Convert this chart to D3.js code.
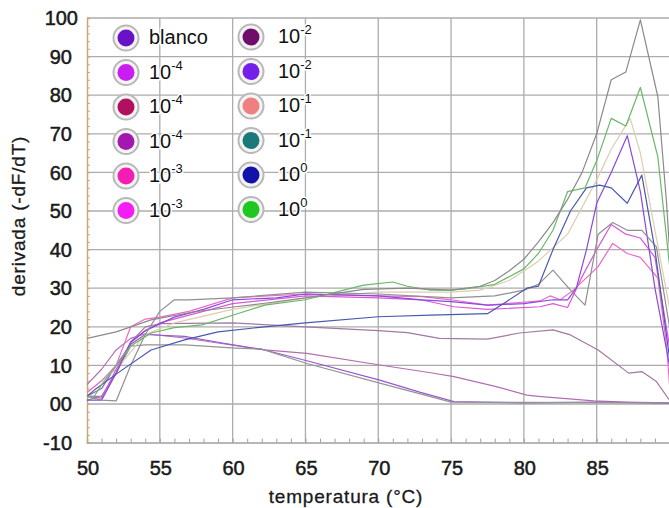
<!DOCTYPE html>
<html>
<head>
<meta charset="utf-8">
<script src="https://cdn.jsdelivr.net/npm/d3@7"></script>
<style>
  body { margin: 0; background: #fff; }
  svg { display: block; font-family: "Liberation Sans", Arial, sans-serif; }
  .tick-label { font-size: 20px; fill: #1a1a1a; stroke: #1a1a1a; stroke-width: 0.5px; }
  .axis-title { font-size: 19px; letter-spacing: 0.8px; fill: #1a1a1a; stroke: #1a1a1a; stroke-width: 0.3px; }
  .leg-text { font-size: 20px; fill: #111; paint-order: stroke; stroke: #fff; stroke-width: 3px; }
</style>
</head>
<body>
<svg id="chart" width="669" height="508"></svg>
<script>
// tick values
var xTicks = [50, 55, 60, 65, 70, 75, 80, 85];
var yTicks = [-10, 0, 10, 20, 30, 40, 50, 60, 70, 80, 90, 100];

// legend (two columns of six)
var legendBase   = ["blanco", "10", "10", "10", "10", "10", "10", "10", "10", "10", "10", "10"];
var legendExp    = ["", "-4", "-4", "-4", "-3", "-3", "-2", "-2", "-1", "-1", "0", "0"];
var legendColors = ["#6a12c8", "#c81ef0", "#b0105e", "#a418b0", "#f41eb4", "#f41ef4",
                    "#6e0e6a", "#7420ea", "#f08080", "#1a7a7a", "#1212a8", "#1ec81e"];

// melt curves, [temperature, -dF/dT]
var curveGrisAlto = [[50,17],[52,18.7],[54.4,21.8],[57.4,23.9],[60.2,25.2],[62.2,26.1],[65,27.5],[69,29.7],
  [72,30],[75,29.5],[77,30.5],[78,32],[79,34.5],[80,37.5],[81,42],[82,47],[83,53],[84,60],[85,70],[86,84],
  [87,86],[88,99.5],[89.2,79.6],[89.8,52],[90,40]];
var curveVerde = [[50,2],[50.5,2],[51,5],[52,10],[53,15],[54.4,18.4],[56,19.8],[57.9,20.5],[60,23],[62.2,25.6],
  [65,27],[69,30.8],[71,31.6],[72,30.5],[73.6,29.5],[75,29.5],[76,29.8],[78,31],[80,35],[81,39],[82,45],
  [83,55],[84.2,56],[85,63],[86,74],[87,72],[88,82],[89.2,64],[90,36]];
var curveSalmon = [[50,3],[52,9],[54,18],[56,21],[60,24.5],[65,27.5],[70,29],[75,29],[77,29.5],[79,32],
  [81,37],[83,44],[85,58],[86,66],[87.3,74],[88,65],[89,45],[90,25]];
var curveVioleta = [[50,1],[51,1],[52,8],[53,16],[54,19],[56,22.5],[58,24.5],[60,27],[63,27.5],[65,28.5],
  [70,28],[73,27],[75,26.5],[77.5,25.6],[80,26],[82,27],[83,27],[83.6,30],[84.3,40],[85,52],[86,60],
  [87.1,69.5],[88,55],[89,30],[90,10]];
var curveAzul = [[50,2],[50.5,3.6],[52.1,8],[54.4,14],[56.7,16.6],[59,18.7],[62.2,20],[65,21],[70,22.6],
  [73.6,23],[77.5,23.4],[78.8,26.5],[80.2,30],[81,30.5],[82,40],[83.2,50],[84.3,56],[85.2,56.7],[86,56],
  [87.1,52],[88.1,59.3],[89,40],[90,12]];
var curveGrisPico = [[50,2],[51,1],[52,0.8],[53,10],[54,18],[55,24],[56,27],[57,27],[60,27.5],[65,29],
  [70,28.5],[75,27.5],[78,28],[80,29.5],[81,31],[82,34.7],[83.2,29.5],[84.2,25.6],[85.1,44],[86.1,47],
  [87.1,45],[88.1,45],[89.1,40.7],[90,20]];
var curveRosa = [[50,3],[51,6],[52,10],[53,20],[54,22],[55,22.5],[57,24],[60,27.5],[65,28.5],[70,28],
  [73,27.8],[75,27],[77.5,25.6],[79.7,26.3],[81.1,26.7],[81.8,28],[82.5,27],[83.4,29.5],[85.1,35.6],
  [86.1,41.6],[87.1,39],[88,38],[89.2,32.6],[89.8,15],[90,5]];
var curveMagenta = [[50,2],[51,1.5],[52,9],[53,16],[54,19],[55,21],[60,26],[65,28],[70,27.5],[72.9,27],
  [75.2,25.2],[77.5,24.5],[81.1,25.2],[82,26],[83,25],[84,33],[85,40],[86,46.5],[87,44],[88,43],[89,38],[90,15]];
var curveMeseta = [[50,2],[51,2],[52,8],[53,16],[54,20],[55,20.8],[60,21],[65,20],[70,19],[72,18.5],
  [74.2,17],[77.5,16.8],[79.7,18.4],[82,19.2],[83.2,17.9],[85.1,14],[87.2,8],[88.1,8.4],[89.1,5.8],[90,1]];
var curveBajaA = [[50,5],[51,9],[52,14],[53,17],[54,18.2],[56.7,17.1],[59,15.8],[62.2,14],[65.1,13.1],
  [70.1,10.1],[73.6,8.1],[75.2,7.1],[78.1,4.5],[80.2,2.3],[81,2],[84.8,0.8],[87,0.5],[90,0.3]];
var curveBajaB = [[50,2],[51,4],[52,10],[53,15.5],[54,18],[56.7,17.5],[59,16],[62.2,14],[65.1,11.2],
  [70.1,6.2],[72.9,3],[75.2,0.6],[80,0.3],[85,0.5],[90,0.2]];
var curveBajaC = [[50,1],[51,2],[52,8],[53,15],[54,15.3],[56.7,15.3],[60.2,14.5],[62,14.2],[65.1,10.5],
  [70.1,5.4],[73.6,1.9],[75,0.5],[80,0.4],[90,0.3]];

// line colours as they show in the picture
var curves = [
  {data: curveMeseta,   color: "#a07aa0"},
  {data: curveBajaA,    color: "#b070b0"},
  {data: curveBajaB,    color: "#9858d0"},
  {data: curveBajaC,    color: "#949494"},
  {data: curveSalmon,   color: "#dccdb0"},
  {data: curveMagenta,  color: "#d858d8"},
  {data: curveRosa,     color: "#f068c8"},
  {data: curveVioleta,  color: "#8848e0"},
  {data: curveGrisPico, color: "#909090"},
  {data: curveAzul,     color: "#4858b0"},
  {data: curveVerde,    color: "#68b868"},
  {data: curveGrisAlto, color: "#8a8a8a"}
];

var svg = d3.select("#chart");

var x = d3.scaleLinear().domain([50, 90]).range([87, 669.5]);
var y = d3.scaleLinear().domain([-10, 100]).range([442.6, 18]);

// grid
svg.append("g").selectAll("line.h")
   .data(yTicks.filter(function(d) { return d > -10; }))
   .enter().append("line")
   .attr("x1", x(50)).attr("x2", 669)
   .attr("y1", function(d) { return y(d); }).attr("y2", function(d) { return y(d); })
   .attr("stroke", "#acacac").attr("stroke-width", 1.3);
svg.append("g").selectAll("line.v")
   .data(xTicks.filter(function(d) { return d > 50; }))
   .enter().append("line")
   .attr("y1", y(100)).attr("y2", y(-10))
   .attr("x1", function(d) { return x(d); }).attr("x2", function(d) { return x(d); })
   .attr("stroke", "#acacac").attr("stroke-width", 1.3);

// axes with minor ticks
var xAxis = svg.append("g").attr("transform", "translate(0," + y(-10) + ")")
   .call(d3.axisTop(x).tickValues(d3.range(51, 90, 1)).tickSize(4).tickFormat(""));
xAxis.select(".domain").attr("stroke", "#a0a0a0").attr("stroke-width", 1.5);
xAxis.selectAll(".tick line").attr("stroke", "#a0a0a0");

var yAxis = svg.append("g").attr("transform", "translate(" + x(50) + ",0)")
   .call(d3.axisRight(y).tickValues(d3.range(-8, 100, 2)).tickSize(3).tickFormat(""));
yAxis.select(".domain").attr("stroke", "#c8a878").attr("stroke-width", 1.5);
yAxis.selectAll(".tick line").attr("stroke", "#c8a878");

// tick labels
svg.append("g").selectAll("text")
   .data(yTicks).enter().append("text")
   .attr("class", "tick-label")
   .attr("x", function(d) { return d === 100 ? 78 : 72; })
   .attr("y", function(d) { return y(d); })
   .attr("dy", "0.36em").attr("text-anchor", "end")
   .text(function(d) { return d === 0 ? "00" : d; });
svg.append("g").selectAll("text")
   .data(xTicks).enter().append("text")
   .attr("class", "tick-label")
   .attr("x", function(d) { return x(d) + 1; }).attr("y", 475)
   .attr("text-anchor", "middle")
   .text(function(d) { return d; });

svg.append("text").attr("class", "axis-title")
   .attr("x", 346).attr("y", 503).attr("text-anchor", "middle")
   .text("temperatura (°C)");
svg.append("text").attr("class", "axis-title")
   .attr("text-anchor", "middle")
   .attr("transform", "translate(25,216)rotate(-90)")
   .text("derivada (-dF/dT)");

// curves
svg.append("clipPath").attr("id", "clip")
   .append("rect").attr("x", x(50)).attr("y", 0).attr("width", 669 - x(50)).attr("height", y(-10));

var line = d3.line()
   .x(function(d) { return x(d[0]); })
   .y(function(d) { return y(d[1]); });

svg.append("g").attr("clip-path", "url(#clip)")
   .selectAll("path").data(curves).enter().append("path")
   .attr("d", function(c) { return line(c.data); })
   .attr("fill", "none")
   .attr("stroke", function(c) { return c.color; })
   .attr("stroke-width", 1.2)
   .attr("stroke-linejoin", "round");

// legend
var legX = [126, 251], legY0 = 38, legStep = 34.5;
var leg = svg.append("g").selectAll("g")
   .data(legendBase).enter().append("g")
   .attr("transform", function(d, i) {
     var col = Math.floor(i / 6), row = i % 6;
     return "translate(" + legX[col] + "," + (legY0 + row * legStep - col) + ")";
   });
leg.append("circle").attr("r", 12.5).attr("fill", "#f4f4f4").attr("stroke", "#b8b8b8").attr("stroke-width", 2);
leg.append("circle").attr("r", 8.5).attr("fill", function(d, i) { return legendColors[i]; });
var lt = leg.append("text").attr("class", "leg-text")
   .attr("x", function(d, i) { return i < 6 ? 23 : 27; }).attr("y", 6);
lt.append("tspan").text(function(d) { return d; });
lt.append("tspan").attr("dy", -9).style("font-size", "13px")
   .text(function(d, i) { return legendExp[i]; });
</script>
</body>
</html>
